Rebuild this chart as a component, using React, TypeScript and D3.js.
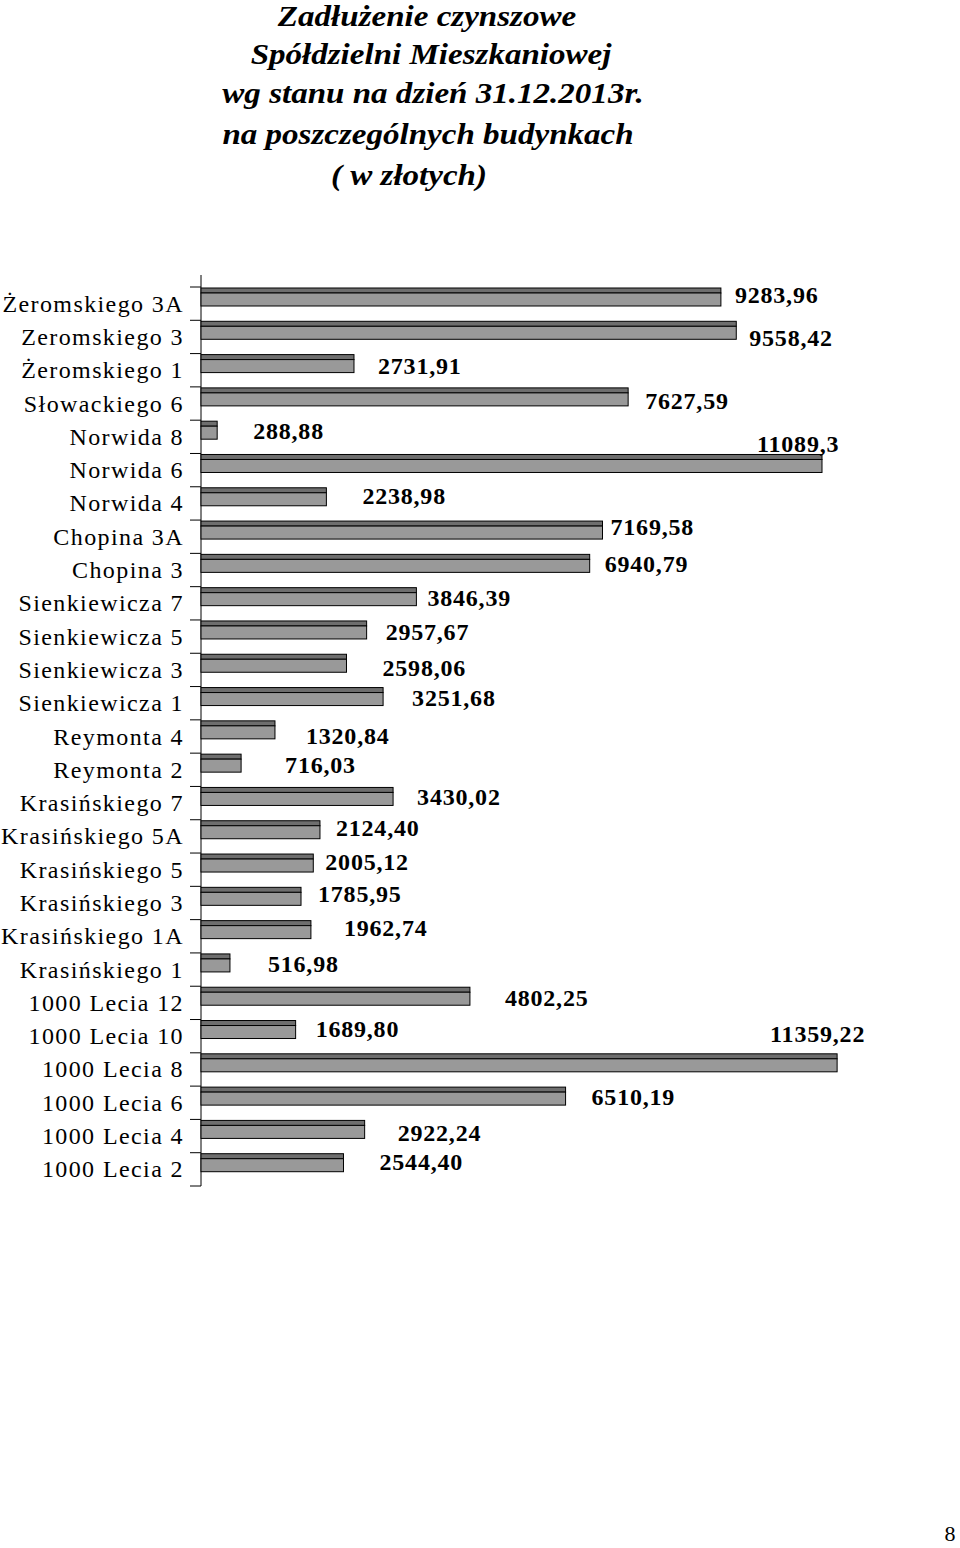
import React from "react";
import * as d3 from "d3";

const categories: string[] = [
  "Żeromskiego 3A", "Zeromskiego 3", "Żeromskiego 1", "Słowackiego 6",
  "Norwida 8", "Norwida 6", "Norwida 4", "Chopina 3A", "Chopina 3",
  "Sienkiewicza 7", "Sienkiewicza 5", "Sienkiewicza 3", "Sienkiewicza 1",
  "Reymonta 4", "Reymonta 2", "Krasińskiego 7", "Krasińskiego 5A",
  "Krasińskiego 5", "Krasińskiego 3", "Krasińskiego 1A", "Krasińskiego 1",
  "1000 Lecia 12", "1000 Lecia 10", "1000 Lecia 8", "1000 Lecia 6",
  "1000 Lecia 4", "1000 Lecia 2",
];

const values: number[] = [
  9283.96, 9558.42, 2731.91, 7627.59, 288.88, 11089.3, 2238.98, 7169.58,
  6940.79, 3846.39, 2957.67, 2598.06, 3251.68, 1320.84, 716.03, 3430.02,
  2124.4, 2005.12, 1785.95, 1962.74, 516.98, 4802.25, 1689.8, 11359.22,
  6510.19, 2922.24, 2544.4,
];

const valueLabels: string[] = [
  "9283,96", "9558,42", "2731,91", "7627,59", "288,88", "11089,3", "2238,98",
  "7169,58", "6940,79", "3846,39", "2957,67", "2598,06", "3251,68", "1320,84",
  "716,03", "3430,02", "2124,40", "2005,12", "1785,95", "1962,74", "516,98",
  "4802,25", "1689,80", "11359,22", "6510,19", "2922,24", "2544,40",
];

const titleLines: string[] = [
  "Zadłużenie czynszowe",
  "Spółdzielni Mieszkaniowej",
  "wg stanu na dzień 31.12.2013r.",
  "na poszczególnych budynkach",
  "( w złotych)",
];

const pageNumber = "8";

// Layout (label placement nudges, as in the hand-moved labels of the original)
const labelNudge: [number, number][] = [
  [14, -9], [13, 1], [24, -4], [17, -3], [36, -6], [-65, -26], [36, -7],
  [8, -10], [15, -6], [11, -5], [19, -5], [36, -2], [29, -5], [31, -1],
  [44, -5], [24, -6], [16, -8], [12, -8], [17, -9], [33, -8], [38, -6],
  [35, -5], [20, -7], [-67, -35], [26, -6], [33, -3], [36, -7],
];

const W = 960;
const H = 1548;
const axisX = 201;
const plotTop = 287;
const plotBottom = 1186;
const serif = "'Liberation Serif', 'Times New Roman', serif";

export default function App() {
  const x = d3.scaleLinear().domain([0, 12000]).range([axisX, axisX + 672]);
  const y = d3
    .scaleBand<string>()
    .domain(categories)
    .range([plotTop, plotBottom])
    .padding(0);
  const bw = y.bandwidth();
  const titleBaselines = [26, 64, 103, 144, 185];
  const titleX = [427, 431, 433, 428, 409];

  return (
    <div style={{ position: "absolute", left: 0, top: 0 }}>
      <svg width={W} height={H} style={{ display: "block", background: "#fff" }}>
        <rect x={0} y={0} width={W} height={H} fill="#fff" />
        {titleLines.map((t, i) => (
          <text
            key={i}
            transform={`translate(${titleX[i]},${titleBaselines[i]}) scale(1.14,1)`}
            x={0}
            y={0}
            textAnchor="middle"
            fontFamily={serif}
            fontSize={29}
            fontWeight="bold"
            fontStyle="italic"
            fill="#000"
          >
            {t}
          </text>
        ))}

        {/* axis */}
        <line x1={axisX} x2={axisX} y1={275} y2={plotBottom} stroke="#000" strokeWidth={1} />
        {d3.range(categories.length + 1).map((i) => {
          const ty = plotTop + i * bw;
          return (
            <line key={i} x1={190} x2={axisX} y1={ty} y2={ty} stroke="#000" strokeWidth={1} />
          );
        })}

        {categories.map((c, i) => {
          const y0 = (y(c) as number) + 1;
          const xe = x(values[i]);
          const cy = (y(c) as number) + bw / 2;
          const [dx, dy] = labelNudge[i];
          return (
            <g key={c}>
              <text
                x={184}
                y={cy + 8}
                textAnchor="end"
                fontFamily={serif}
                fontSize={24}
                letterSpacing={1.4}
                fill="#000"
              >
                {c}
              </text>
              <rect x={axisX} y={y0} width={xe - axisX} height={5} fill="#6e6e6e" stroke="#000" strokeWidth={1} />
              <rect x={axisX} y={y0 + 5} width={xe - axisX} height={13} fill="#999" stroke="#000" strokeWidth={1} />
              <text
                x={xe + dx}
                y={cy + dy + 8}
                fontFamily={serif}
                fontSize={24}
                fontWeight="bold"
                letterSpacing={0.8}
                fill="#000"
              >
                {valueLabels[i]}
              </text>
            </g>
          );
        })}

        <text x={950} y={1541} textAnchor="middle" fontFamily={serif} fontSize={22} fill="#000">
          {pageNumber}
        </text>
      </svg>
    </div>
  );
}
